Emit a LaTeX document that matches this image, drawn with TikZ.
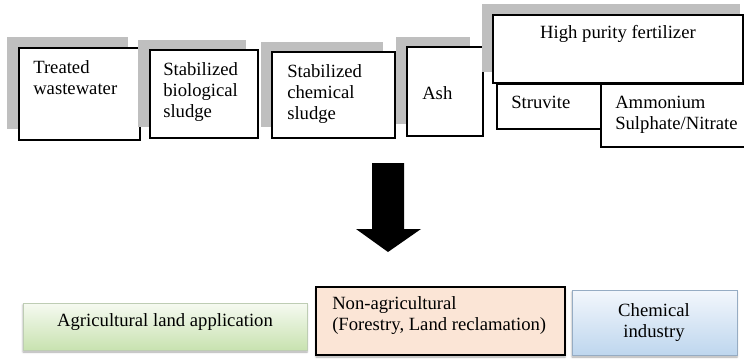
\documentclass[tikz,border=0pt]{standalone}
\usepackage{fontspec}
\setmainfont{Liberation Serif}
\usetikzlibrary{arrows.meta, positioning, calc, shadows.blur}
\definecolor{shadegray} {RGB}{191,191,191}
\definecolor{agritop}   {RGB}{246,250,241}
\definecolor{agribottom}{RGB}{200,226,176}
\definecolor{agriedge}  {RGB}{190,205,180}
\definecolor{nonagri}   {RGB}{251,229,214}
\definecolor{chemtop}   {RGB}{243,247,252}
\definecolor{chembottom}{RGB}{190,214,238}
\definecolor{chemedge}  {RGB}{150,172,195}

\begin{document}
\begin{tikzpicture}[x=0.75pt,y=-0.75pt,
		every node/.style={font=\fontsize{14}{15.75}\selectfont, inner sep=0pt},
		txt/.style={anchor=north west, align=left},
		ctxt/.style={align=center},
		box/.style={draw, line width=0.9pt, fill=white},
		backdrop/.style={fill=shadegray},
		usebox/.style={line width=0.6pt, blur shadow={shadow xshift=0pt, shadow yshift=-1.5pt, shadow blur radius=1.5pt, shadow opacity=35}}]
	\useasboundingbox (0,0) rectangle (744,358);
	% products with grey backdrops
	\fill[backdrop] (7,37) rectangle (128,129);
	\draw[box] (19,48) rectangle (140,140);
	\node[txt] (water) at (33,60) {Treated\\wastewater};
	\fill[backdrop] (138,40) rectangle (246,127);
	\draw[box] (150,50) rectangle (258,138);
	\node[txt] (biosludge) at (163,62) {Stabilized\\biological\\sludge};
	\fill[backdrop] (261,42) rectangle (383,127);
	\draw[box] (272,52) rectangle (395,138);
	\node[txt] (chemsludge) at (287,64) {Stabilized\\chemical\\sludge};
	\fill[backdrop] (396,37) rectangle (470,124);
	\draw[box] (407,47) rectangle (483,136);
	\node[txt] (ash) at (422,86) {Ash};
	% fertilizer and its two kinds
	\fill[backdrop] (482,4) rectangle (740,72);
	\draw[box] (493,15) rectangle (743,83);
	\node[anchor=base] (fertilizer) at (618,38) {High purity fertilizer};
	\draw[box] (497,84) rectangle (601,129);
	\node[txt] (struvite) at (511,96) {Struvite};
	\draw[box] (601,84) rectangle (746,147);
	\node[txt] (ammonium) at (615,96) {Ammonium\\Sulphate/Nitrate};
	% big block arrow
	\fill (372,163) -- (404,163) -- (404,229) -- (421,229) -- (388,252)
		-- (356,229) -- (372,229) -- cycle;
	% uses
	\draw[usebox, draw=agriedge, top color=agritop, bottom color=agribottom]
		(23,303) rectangle (307,350);
	\node[anchor=base] (agri) at (165,326) {Agricultural land application};
	\draw[usebox, draw=black, line width=0.9pt, fill=nonagri] (316,287) rectangle (565,355);
	\node[txt] (nonagri) at (332,296) {Non-agricultural\\(Forestry, Land reclamation)};
	\draw[usebox, draw=chemedge, top color=chemtop, bottom color=chembottom]
		(572,290) rectangle (737,355);
	\node[ctxt, anchor=north] (industry) at (654,303) {Chemical\\industry};
\end{tikzpicture}
\end{document}
